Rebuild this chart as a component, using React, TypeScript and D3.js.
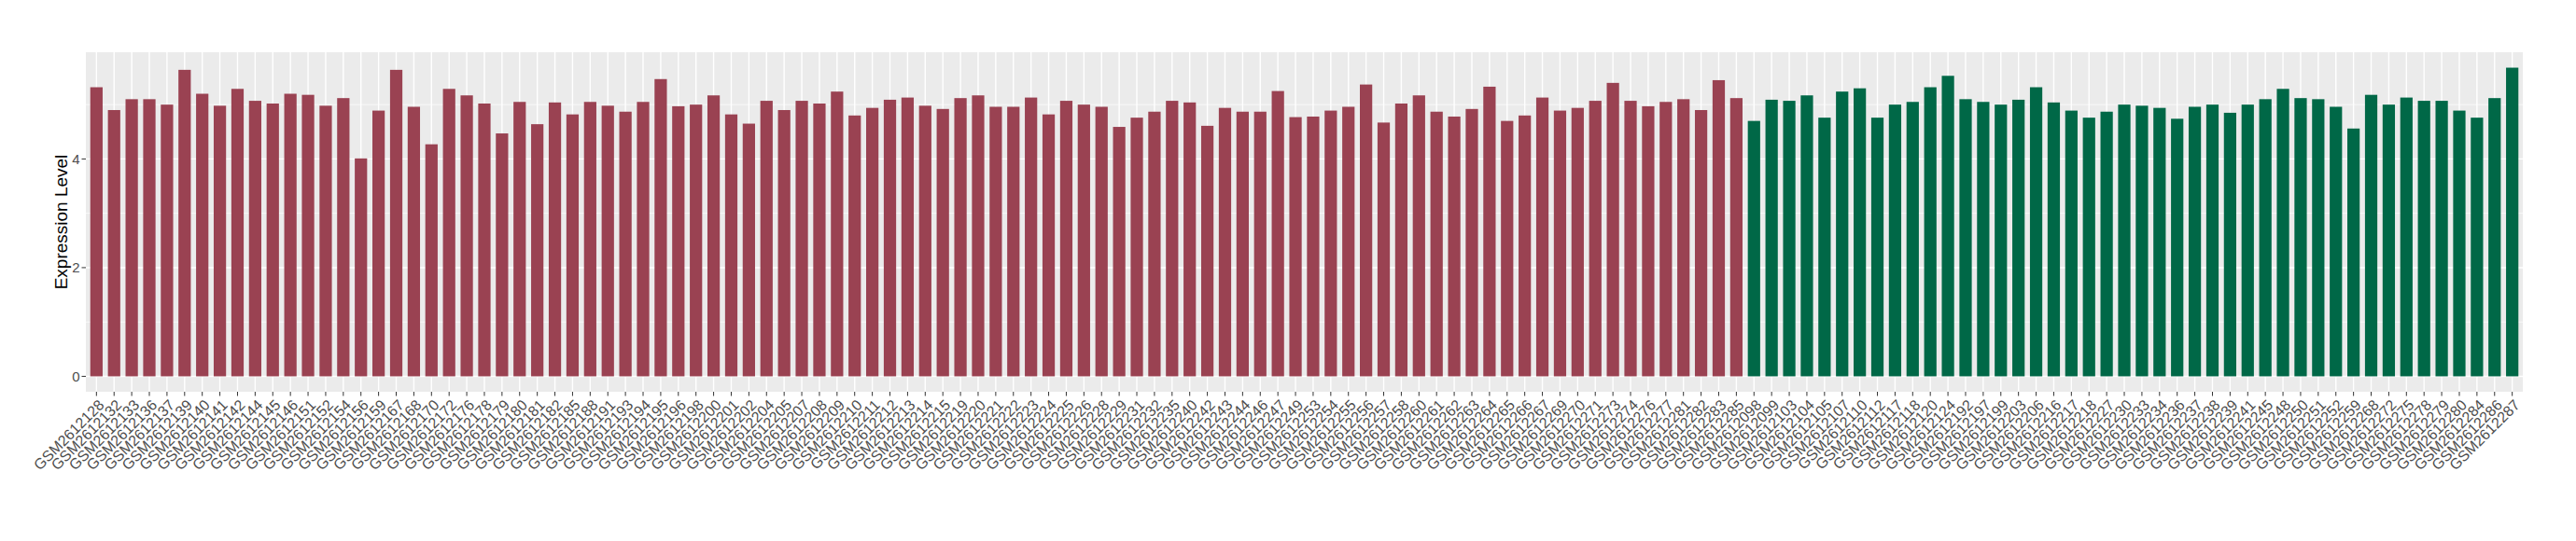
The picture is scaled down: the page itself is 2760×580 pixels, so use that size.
import React, { useEffect, useRef } from 'react';
import * as d3 from 'd3';

document.body.style.margin = '0';
document.body.style.overflow = 'hidden';

// first group (red)
const redSamples = [
  'GSM2612128', 'GSM2612132', 'GSM2612133', 'GSM2612136', 'GSM2612137', 'GSM2612139', 'GSM2612140', 'GSM2612141',
  'GSM2612142', 'GSM2612144', 'GSM2612145', 'GSM2612146', 'GSM2612151', 'GSM2612152', 'GSM2612154', 'GSM2612156',
  'GSM2612159', 'GSM2612167', 'GSM2612168', 'GSM2612170', 'GSM2612172', 'GSM2612176', 'GSM2612178', 'GSM2612179',
  'GSM2612180', 'GSM2612181', 'GSM2612182', 'GSM2612185', 'GSM2612188', 'GSM2612191', 'GSM2612193', 'GSM2612194',
  'GSM2612195', 'GSM2612196', 'GSM2612198', 'GSM2612200', 'GSM2612201', 'GSM2612202', 'GSM2612204', 'GSM2612205',
  'GSM2612207', 'GSM2612208', 'GSM2612209', 'GSM2612210', 'GSM2612211', 'GSM2612212', 'GSM2612213', 'GSM2612214',
  'GSM2612215', 'GSM2612219', 'GSM2612220', 'GSM2612221', 'GSM2612222', 'GSM2612223', 'GSM2612224', 'GSM2612225',
  'GSM2612226', 'GSM2612228', 'GSM2612229', 'GSM2612231', 'GSM2612232', 'GSM2612235', 'GSM2612240', 'GSM2612242',
  'GSM2612243', 'GSM2612244', 'GSM2612246', 'GSM2612247', 'GSM2612249', 'GSM2612253', 'GSM2612254', 'GSM2612255',
  'GSM2612256', 'GSM2612257', 'GSM2612258', 'GSM2612260', 'GSM2612261', 'GSM2612262', 'GSM2612263', 'GSM2612264',
  'GSM2612265', 'GSM2612266', 'GSM2612267', 'GSM2612269', 'GSM2612270', 'GSM2612271', 'GSM2612273', 'GSM2612274',
  'GSM2612276', 'GSM2612277', 'GSM2612281', 'GSM2612282', 'GSM2612283', 'GSM2612285'
];
const redValues = [
  5.32, 4.90, 5.10, 5.10, 5.00, 5.64, 5.20, 4.98,
  5.29, 5.07, 5.02, 5.20, 5.18, 4.98, 5.12, 4.01,
  4.89, 5.64, 4.96, 4.27, 5.29, 5.17, 5.02, 4.47,
  5.05, 4.64, 5.04, 4.82, 5.05, 4.98, 4.87, 5.05,
  5.47, 4.97, 5.00, 5.17, 4.82, 4.65, 5.07, 4.90,
  5.07, 5.02, 5.24, 4.80, 4.94, 5.09, 5.13, 4.98,
  4.92, 5.12, 5.17, 4.96, 4.96, 5.13, 4.82, 5.07,
  5.00, 4.96, 4.59, 4.76, 4.87, 5.07, 5.04, 4.61,
  4.94, 4.87, 4.87, 5.25, 4.77, 4.78, 4.89, 4.96,
  5.37, 4.67, 5.02, 5.17, 4.87, 4.78, 4.92, 5.33,
  4.70, 4.80, 5.13, 4.89, 4.94, 5.07, 5.40, 5.07,
  4.97, 5.05, 5.10, 4.90, 5.45, 5.12
];

// second group (green)
const greenSamples = [
  'GSM2612098', 'GSM2612099', 'GSM2612103', 'GSM2612104', 'GSM2612105', 'GSM2612107', 'GSM2612110', 'GSM2612112',
  'GSM2612117', 'GSM2612118', 'GSM2612120', 'GSM2612124', 'GSM2612192', 'GSM2612197', 'GSM2612199', 'GSM2612203',
  'GSM2612206', 'GSM2612216', 'GSM2612217', 'GSM2612218', 'GSM2612227', 'GSM2612230', 'GSM2612233', 'GSM2612234',
  'GSM2612236', 'GSM2612237', 'GSM2612238', 'GSM2612239', 'GSM2612241', 'GSM2612245', 'GSM2612248', 'GSM2612250',
  'GSM2612251', 'GSM2612252', 'GSM2612259', 'GSM2612268', 'GSM2612272', 'GSM2612275', 'GSM2612278', 'GSM2612279',
  'GSM2612280', 'GSM2612284', 'GSM2612286', 'GSM2612287'
];
const greenValues = [
  4.70, 5.09, 5.07, 5.17, 4.76, 5.24, 5.30, 4.76,
  5.00, 5.05, 5.32, 5.53, 5.10, 5.05, 5.00, 5.09,
  5.32, 5.04, 4.89, 4.76, 4.87, 5.00, 4.98, 4.94,
  4.74, 4.96, 5.00, 4.85, 5.00, 5.10, 5.29, 5.12,
  5.10, 4.96, 4.56, 5.18, 5.00, 5.13, 5.07, 5.07,
  4.89, 4.76, 5.12, 5.68
];

const yTicks = [0, 2, 4];
const yMinor = [1, 3, 5];

type Bar = { sample: string; value: number; group: string };

const App: React.FC = () => {
  const ref = useRef<SVGSVGElement | null>(null);

  useEffect(() => {
    if (!ref.current) return;
    const data: Bar[] = [
      ...redSamples.map((s, i) => ({ sample: s, value: redValues[i], group: 'a' })),
      ...greenSamples.map((s, i) => ({ sample: s, value: greenValues[i], group: 'b' }))
    ];

    const width = 2760, height = 580;
    const left = 92, right = 2703, top = 56, bottom = 420;
    const font = '"Liberation Sans", Arial, sans-serif';

    const svg = d3.select(ref.current);
    svg.selectAll('*').remove();
    svg.attr('width', width).attr('height', height);

    const x = d3.scaleBand()
      .domain(data.map(d => d.sample))
      .range([left, right])
      .paddingInner(0.3)
      .paddingOuter(0.25);

    const maxV = d3.max(data, d => d.value) as number;
    const y = d3.scaleLinear()
      .domain([-0.05 * maxV, 1.05 * maxV])
      .range([bottom, top]);

    const color = d3.scaleOrdinal<string, string>().domain(['a', 'b']).range(['#9A4252', '#006847']);
    const cx = (d: Bar) => (x(d.sample) as number) + x.bandwidth() / 2;

    svg.append('rect')
      .attr('x', left).attr('y', top)
      .attr('width', right - left).attr('height', bottom - top)
      .attr('fill', '#EBEBEB');

    svg.append('g').selectAll('line').data(yMinor).join('line')
      .attr('x1', left).attr('x2', right)
      .attr('y1', d => y(d)).attr('y2', d => y(d))
      .attr('stroke', '#FFFFFF').attr('stroke-width', 0.7);

    svg.append('g').selectAll('line').data(yTicks).join('line')
      .attr('x1', left).attr('x2', right)
      .attr('y1', d => y(d)).attr('y2', d => y(d))
      .attr('stroke', '#FFFFFF').attr('stroke-width', 1.4);

    svg.append('g').selectAll('line').data(data).join('line')
      .attr('x1', cx).attr('x2', cx)
      .attr('y1', top).attr('y2', bottom)
      .attr('stroke', '#FFFFFF').attr('stroke-width', 1.4);

    svg.append('g').selectAll('rect').data(data).join('rect')
      .attr('x', d => x(d.sample) as number)
      .attr('width', x.bandwidth())
      .attr('y', d => y(d.value))
      .attr('height', d => y(0) - y(d.value))
      .attr('fill', d => color(d.group));

    // y axis
    const ya = svg.append('g');
    ya.selectAll('line').data(yTicks).join('line')
      .attr('x1', left - 4.5).attr('x2', left)
      .attr('y1', d => y(d)).attr('y2', d => y(d))
      .attr('stroke', '#333333').attr('stroke-width', 1);
    ya.selectAll('text').data(yTicks).join('text')
      .attr('x', left - 6.5).attr('y', d => y(d))
      .attr('dy', '0.35em')
      .attr('text-anchor', 'end')
      .attr('font-family', font).attr('font-size', 15)
      .attr('fill', '#4D4D4D')
      .text(d => d);

    // x axis
    const xa = svg.append('g');
    xa.selectAll('line').data(data).join('line')
      .attr('x1', cx).attr('x2', cx)
      .attr('y1', bottom).attr('y2', bottom + 4.5)
      .attr('stroke', '#333333').attr('stroke-width', 1);
    xa.selectAll('text').data(data).join('text')
      .attr('transform', d => `translate(${cx(d) + 1},${bottom + 7}) rotate(-45)`)
      .attr('text-anchor', 'end')
      .attr('dy', '0.72em')
      .attr('font-family', font).attr('font-size', 16)
      .attr('fill', '#4D4D4D')
      .text(d => d.sample);

    svg.append('text')
      .attr('transform', `translate(65,${(top + bottom) / 2}) rotate(-90)`)
      .attr('text-anchor', 'middle')
      .attr('dy', '0.35em')
      .attr('font-family', font).attr('font-size', 19)
      .attr('fill', '#000000')
      .text('Expression Level');
  }, []);

  return <svg ref={ref} style={{ display: 'block' }} />;
};

export default App;
